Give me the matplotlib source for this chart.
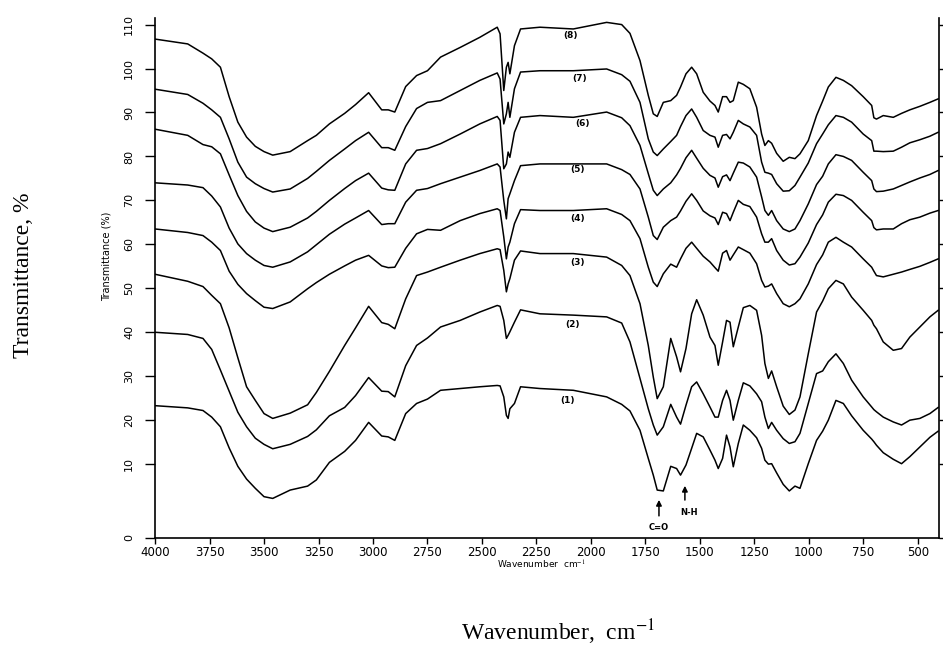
import matplotlib
matplotlib.use("Agg")
import matplotlib.pyplot as plt

# 共通の波数グリッド (cm^-1)
wavenumber = [4000, 3850, 3780, 3740, 3700, 3660, 3620, 3580, 3540, 3500, 3460, 3380, 3300, 3260, 3200, 3130,
              3080, 3020, 2960, 2930, 2900, 2850, 2800, 2750,
              2690, 2600, 2510, 2430, 2417, 2400, 2388, 2380, 2372, 2351, 2323, 2234, 2081, 1928, 1859,
              1821, 1775, 1737, 1714, 1696, 1668, 1634, 1607, 1589, 1564, 1538, 1515, 1485, 1454, 1431, 1416,
              1396, 1378, 1362, 1347, 1324, 1301, 1271, 1240, 1217, 1202, 1186, 1171, 1148, 1118, 1090, 1064,
              1041, 1003, 965, 937, 911, 876, 842, 804, 751, 712, 702, 690, 659, 613, 575, 537, 491, 445, 407]

# 透過率 (%) : スペクトル (1)〜(8)
t1 = [23.3, 22.8, 22.2, 20.7, 18.5, 13.7, 9.5, 6.6, 4.5, 2.6, 2.2, 4.1, 5.0, 6.4, 10.4, 12.9,
      15.4, 19.5, 16.4, 16.2, 15.4, 21.5, 23.8, 24.8,
      26.8, 27.2, 27.6, 27.9, 27.8, 25.3, 21.1, 20.4, 22.6, 23.8, 27.6, 27.2, 26.8, 25.3, 23.6,
      22.1, 17.7, 11.3, 7.5, 4.1, 3.9, 9.5, 9.0, 7.5, 9.8, 13.6, 17.0, 16.2, 13.2, 10.9, 9.0,
      11.3, 16.6, 13.9, 9.4, 14.7, 18.9, 17.7, 16.0, 13.6, 10.9, 10.0, 10.1, 8.0, 5.4, 3.9, 5.0,
      4.5, 10.1, 15.4, 17.5, 20.0, 24.5, 23.8, 21.0, 17.7, 15.7, 15.1, 14.3, 12.6, 11.1, 10.1, 11.7, 13.9, 16.1, 17.5]
t2 = [40.0, 39.5, 38.6, 36.1, 31.4, 26.6, 21.8, 18.5, 15.9, 14.5, 13.5, 14.5, 16.3, 17.8, 21.0, 22.9,
      25.6, 29.7, 26.6, 26.5, 25.3, 32.4, 37.0, 38.7,
      41.2, 42.7, 44.6, 46.1, 45.9, 42.7, 38.6, 39.3, 40.1, 42.3, 45.1, 44.2, 43.9, 43.5, 42.1,
      37.8, 29.5, 22.6, 18.9, 16.6, 18.5, 23.6, 20.7, 19.1, 23.4, 27.6, 28.7, 26.0, 23.0, 20.7, 20.7,
      24.5, 26.8, 24.5, 20.0, 24.5, 28.5, 27.8, 26.0, 24.2, 20.7, 18.1, 19.5, 17.7, 15.8, 14.7, 15.1,
      17.0, 23.8, 30.6, 31.2, 33.3, 35.1, 32.9, 29.1, 25.3, 23.0, 22.4, 21.9, 20.7, 19.6, 18.9, 20.0, 20.4, 21.5, 22.9]
t3 = [53.2, 51.6, 50.4, 48.4, 46.5, 41.0, 34.2, 27.6, 24.5, 21.5, 20.4, 21.6, 23.5, 26.3, 31.1, 37.0,
      41.0, 45.9, 42.2, 41.8, 40.8, 47.6, 52.9, 53.7,
      54.8, 56.4, 57.9, 59.0, 58.8, 54.1, 49.2, 51.0, 52.2, 56.4, 58.5, 57.9, 57.9, 57.1, 55.2,
      52.9, 46.5, 37.0, 29.8, 24.9, 27.6, 38.6, 34.4, 31.0, 36.3, 44.2, 47.4, 43.9, 38.9, 37.0, 32.5,
      37.8, 42.7, 42.3, 36.7, 41.2, 45.6, 46.1, 45.0, 39.3, 32.9, 29.5, 31.2, 27.6, 23.2, 21.3, 22.3,
      25.3, 35.1, 44.6, 47.1, 49.9, 51.8, 51.0, 48.0, 45.0, 42.7, 41.6, 40.8, 37.8, 35.9, 36.3, 38.9, 41.2, 43.5, 45.0]
t4 = [63.5, 62.7, 62.0, 60.5, 58.6, 53.9, 50.9, 48.8, 47.2, 45.7, 45.4, 46.9, 49.9, 51.3, 53.2, 55.1,
      56.4, 57.5, 55.1, 54.7, 54.8, 59.1, 62.4, 63.4,
      63.2, 65.4, 67.0, 68.1, 67.7, 61.7, 56.7, 59.4, 60.5, 64.7, 67.9, 67.7, 67.7, 68.1, 66.8,
      65.4, 61.3, 54.8, 51.4, 50.4, 53.3, 55.5, 54.8, 56.7, 59.1, 60.5, 59.1, 57.3, 56.0, 54.7, 53.9,
      58.0, 58.6, 56.4, 57.6, 59.4, 58.8, 58.0, 55.6, 51.8, 50.3, 50.5, 51.0, 48.8, 46.5, 45.8, 46.5,
      47.6, 51.0, 55.4, 57.6, 60.5, 61.6, 60.5, 59.4, 56.7, 54.8, 53.9, 52.9, 52.6, 53.2, 53.7, 54.3, 55.0, 55.9, 56.7]
t5 = [74.0, 73.5, 72.9, 71.0, 68.5, 63.7, 60.1, 57.9, 56.4, 55.2, 54.8, 56.0, 58.3, 59.9, 62.3, 64.6,
      66.0, 67.7, 64.5, 64.7, 64.7, 69.6, 72.3, 72.7,
      73.8, 75.3, 76.8, 78.3, 77.6, 70.0, 65.8, 70.4, 71.5, 74.5, 77.9, 78.3, 78.3, 78.3, 77.0,
      75.9, 72.6, 66.2, 62.0, 61.1, 63.9, 65.4, 66.2, 67.6, 69.8, 71.5, 70.0, 67.6, 66.5, 66.0, 64.5,
      67.3, 67.0, 65.4, 67.3, 70.0, 69.1, 68.6, 66.2, 62.4, 60.5, 60.5, 61.3, 58.6, 56.4, 55.3, 55.6,
      57.1, 60.3, 64.5, 66.7, 69.6, 71.4, 71.1, 70.0, 67.3, 65.4, 63.8, 63.3, 63.5, 63.5, 64.7, 65.6, 66.2, 67.1, 67.7]
t6 = [86.2, 84.8, 82.7, 82.2, 80.6, 75.8, 71.1, 67.5, 65.1, 63.7, 62.9, 63.9, 66.0, 67.5, 70.0, 72.7,
      74.5, 76.2, 72.8, 72.4, 72.3, 78.3, 81.4, 81.8,
      82.9, 85.1, 87.4, 89.1, 88.2, 77.2, 78.3, 81.0, 79.8, 85.5, 88.9, 89.3, 88.9, 90.1, 88.8,
      87.0, 82.5, 76.1, 72.3, 71.1, 72.6, 74.0, 75.8, 77.3, 79.7, 81.4, 79.6, 77.3, 75.7, 75.1, 73.0,
      75.4, 75.8, 74.5, 76.2, 78.7, 78.5, 77.6, 75.3, 70.8, 67.7, 66.6, 67.7, 65.4, 63.5, 62.9, 63.5,
      65.4, 69.2, 73.6, 75.5, 78.3, 80.4, 80.0, 79.1, 76.4, 74.5, 72.6, 72.0, 72.1, 72.6, 73.4, 74.2, 75.1, 75.9, 76.8]
t7 = [95.3, 94.1, 92.1, 90.6, 88.9, 84.0, 78.7, 75.3, 73.8, 72.7, 71.9, 72.6, 75.0, 76.6, 79.1, 81.7,
      83.6, 85.5, 82.0, 82.0, 81.4, 86.8, 90.9, 92.3,
      92.7, 95.0, 97.3, 99.0, 97.6, 87.4, 89.7, 92.3, 88.9, 95.4, 99.2, 99.5, 99.5, 99.9, 98.6,
      97.1, 92.3, 84.0, 81.0, 80.2, 81.7, 83.4, 84.8, 86.8, 89.3, 90.8, 88.9, 85.9, 84.8, 84.4, 82.1,
      84.8, 85.0, 84.0, 85.5, 88.2, 87.4, 86.7, 84.8, 78.7, 76.4, 76.2, 75.9, 73.8, 72.1, 72.2, 73.4,
      75.3, 78.5, 82.9, 85.1, 87.2, 89.3, 88.9, 87.8, 85.1, 83.6, 81.2, 81.2, 81.1, 81.2, 82.1, 83.1, 83.8, 84.6, 85.5]
t8 = [106.7, 105.6, 103.5, 102.2, 100.3, 93.6, 87.8, 84.4, 82.3, 81.1, 80.3, 81.1, 83.6, 84.8, 87.4, 89.8,
      91.8, 94.5, 90.6, 90.6, 90.1, 95.9, 98.4, 99.5,
      102.6, 104.8, 107.1, 109.4, 107.9, 95.0, 100.3, 101.4, 98.8, 105.2, 109.0, 109.4, 109.0, 110.5, 110.0,
      108.0, 101.8, 93.9, 89.7, 89.1, 92.3, 92.7, 93.9, 95.8, 98.8, 100.3, 98.8, 94.6, 92.6, 91.6, 90.1,
      93.6, 93.6, 92.3, 92.7, 96.9, 96.4, 95.4, 91.2, 85.1, 82.5, 83.6, 83.0, 80.7, 78.9, 79.8, 79.5,
      80.6, 83.6, 89.3, 92.6, 95.8, 98.0, 97.3, 96.1, 93.6, 91.6, 88.8, 88.5, 89.3, 88.9, 89.8, 90.6, 91.4, 92.3, 93.1]

curve_labels = ["(1)", "(2)", "(3)", "(4)", "(5)", "(6)", "(7)", "(8)"]
label_wn = [2106, 2083, 2064, 2060, 2060, 2037, 2050, 2096]
label_t = [24.5, 41.8, 55.9, 65.9, 77.0, 87.5, 97.7, 107.5]

xtick_values = [4000, 3750, 3500, 3250, 3000, 2750, 2500, 2250, 2000, 1750, 1500, 1250, 1000, 750, 500]
# 元図の軸は 0〜10 の間が引き伸ばされている
ytick_values = [-6.8, 10, 20, 30, 40, 50, 60, 70, 80, 90, 100, 110]
ytick_labels = ["0", "10", "20", "30", "40", "50", "60", "70", "80", "90", "100", "110"]


def main():
    plt.rcParams["mathtext.fontset"] = "stix"
    fig = plt.figure(figsize=(9.43, 6.54), dpi=100)
    ax = fig.add_axes([0.1644, 0.1774, 0.8314, 0.7951])

    for t in [t1, t2, t3, t4, t5, t6, t7, t8]:
        ax.plot(wavenumber, t, color="black", lw=1.1)

    for lab, x, y in zip(curve_labels, label_wn, label_t):
        ax.text(x, y, lab, fontsize=6.5, fontweight="bold", ha="center", va="center")

    # C=O, N-H の矢印
    ax.annotate("", xy=(1688, 2.5), xytext=(1688, -2.4),
                arrowprops=dict(arrowstyle="-|>", color="black", lw=1.1, mutation_scale=8))
    ax.text(1688, -4.5, "C=O", fontsize=6, fontweight="bold", ha="center", va="center")
    ax.annotate("", xy=(1569, 5.7), xytext=(1569, 1.2),
                arrowprops=dict(arrowstyle="-|>", color="black", lw=1.1, mutation_scale=8))
    ax.text(1552, -0.9, "N-H", fontsize=6, fontweight="bold", ha="center", va="center")

    ax.set_xlim(4000, 403)
    ax.set_ylim(-6.8, 111.5)
    ax.spines["top"].set_visible(False)
    for s in ["left", "right", "bottom"]:
        ax.spines[s].set_linewidth(1.2)

    ax.set_xticks(xtick_values)
    ax.set_xticklabels([str(v) for v in xtick_values], fontsize=8.5)
    ax.set_yticks(ytick_values)
    ax.set_yticklabels(ytick_labels, rotation=90, va="center", fontsize=8)
    ax.tick_params(axis="y", direction="out", length=7, width=1, pad=8, right=True, labelright=False)
    ax.tick_params(axis="x", direction="out", length=4, width=1, pad=2)

    # 内側の小さな軸ラベル
    fig.text(107 / 943, 1 - 256 / 654, "Transmittance (%)", rotation=90,
             fontsize=7, ha="center", va="center")
    fig.text(541 / 943, 1 - 565 / 654, "Wavenumber  cm$^{-1}$",
             fontsize=6.5, ha="center", va="center")

    # 外側の軸ラベル
    fig.text(24 / 943, 1 - 275 / 654, "Transmittance, %", rotation=90,
             family="Liberation Serif", fontsize=17, ha="center", va="center")
    fig.text(558 / 943, 1 - 632 / 654, "Wavenumber,  cm$^{-1}$",
             family="Liberation Serif", fontsize=17, ha="center", va="center")

    fig.savefig("out.png", dpi=100)


if __name__ == "__main__":
    main()
